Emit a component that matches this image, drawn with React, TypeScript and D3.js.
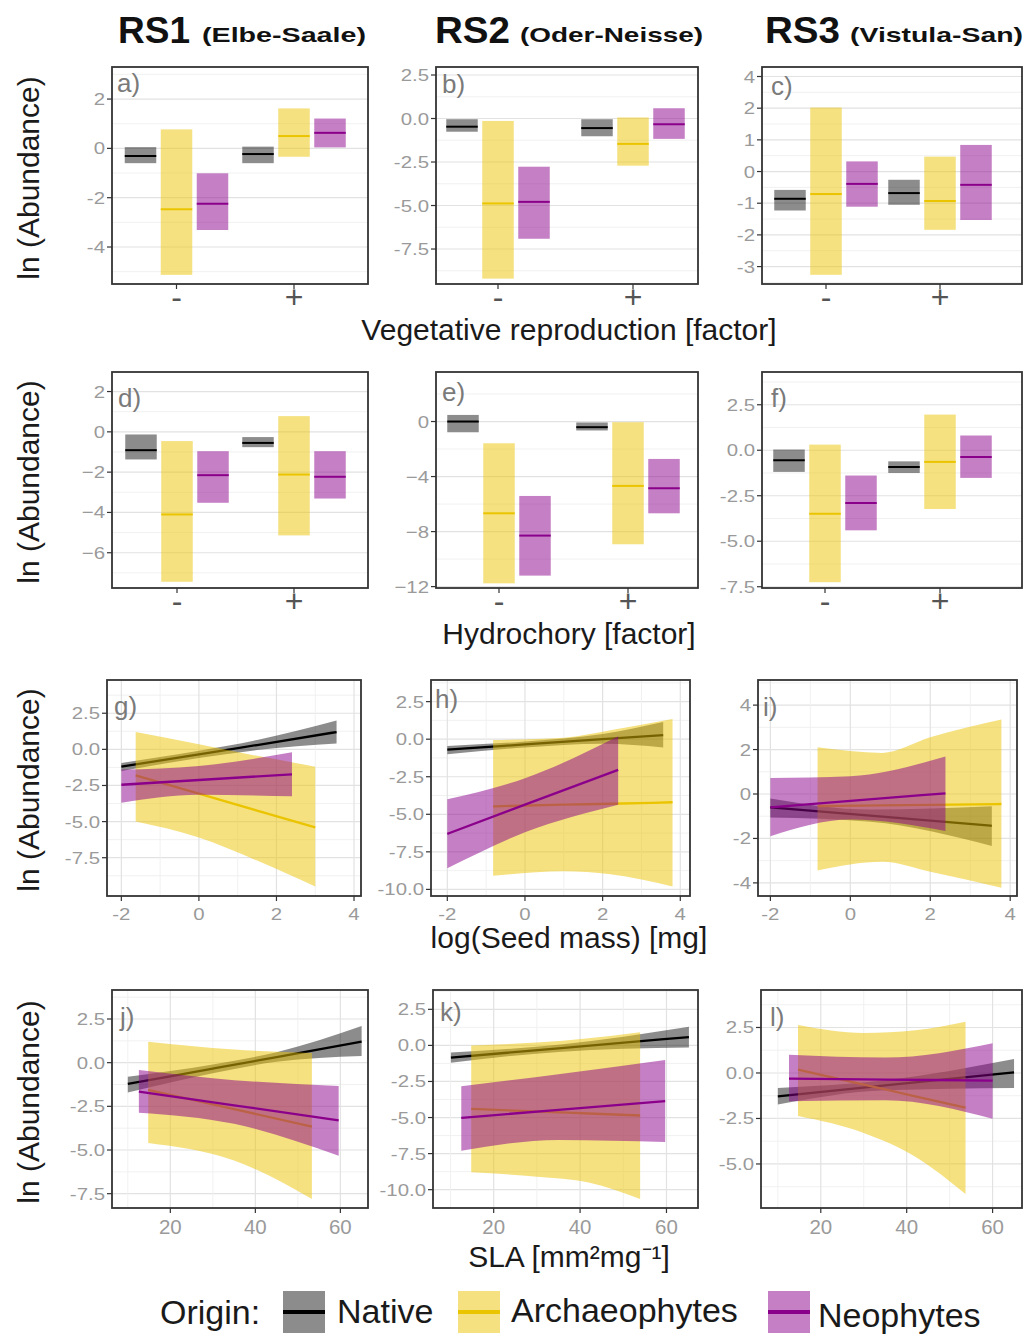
import React from "react";
import * as d3 from "d3";

const FONT = "'Liberation Sans', Arial, Helvetica, sans-serif";

const origins = ["Native", "Archaeophytes", "Neophytes"];
const originLine = ["#000000", "#EBC400", "#8B008B"];
const originAlpha = [0.45, 0.5, 0.5];
const levels = ["-", "+"];

// crossbars, [lower, median, upper] for level "-" then "+"
const aNative = [[-0.6, -0.31, 0.05], [-0.6, -0.23, 0.07]];
const aArch = [[-5.13, -2.47, 0.77], [-0.34, 0.5, 1.62]];
const aNeo = [[-3.31, -2.25, -1.01], [0.04, 0.63, 1.21]];

const bNative = [[-0.76, -0.47, -0.04], [-1.02, -0.55, -0.04]];
const bArch = [[-9.2, -4.88, -0.14], [-2.71, -1.46, 0.06]];
const bNeo = [[-6.91, -4.79, -2.77], [-1.17, -0.33, 0.59]];

const cNative = [[-1.23, -0.86, -0.58], [-1.05, -0.68, -0.26]];
const cArch = [[-3.26, -0.71, 2.02], [-1.84, -0.93, 0.47]];
const cNeo = [[-1.11, -0.39, 0.32], [-1.53, -0.42, 0.84]];

const dNative = [[-1.37, -0.91, -0.13], [-0.76, -0.55, -0.26]];
const dArch = [[-7.44, -4.1, -0.46], [-5.14, -2.12, 0.78]];
const dNeo = [[-3.52, -2.15, -0.96], [-3.31, -2.23, -0.96]];

const eNative = [[-0.78, 0.0, 0.48], [-0.65, -0.41, -0.07]];
const eArch = [[-11.76, -6.67, -1.58], [-8.92, -4.68, -0.05]];
const eNeo = [[-11.2, -8.29, -5.41], [-6.67, -4.85, -2.72]];

const fNative = [[-1.19, -0.55, 0.04], [-1.25, -0.92, -0.61]];
const fArch = [[-7.25, -3.49, 0.31], [-3.23, -0.64, 1.96]];
const fNeo = [[-4.4, -2.9, -1.39], [-1.52, -0.37, 0.81]];

// fitted lines with confidence bands: [x, fit, lower, upper]
const gNative = [[-2, -1.2, -1.5, -0.95], [0, -0.34, -0.6, -0.1], [1.5, 0.3, -0.05, 0.65], [3.55, 1.2, 0.4, 2.0]];
const gArch = [[-1.63, -1.8, -5.0, 1.2], [0, -3.07, -6.1, 0.35], [1.5, -4.24, -7.7, -0.45], [3.0, -5.4, -9.5, -1.2]];
const gNeo = [[-2, -2.45, -3.7, -1.4], [0, -2.12, -3.15, -1.15], [2.4, -1.73, -3.25, -0.2]];

const hNative = [[-2, -0.7, -1.0, -0.45], [0, -0.35, -0.55, -0.15], [2, 0.0, -0.3, 0.35], [3.56, 0.27, -0.55, 1.15]];
const hArch = [[-0.82, -4.47, -9.1, -0.05], [1, -4.36, -8.8, 0.1], [2.2, -4.3, -9.0, 0.6], [3.8, -4.2, -9.8, 1.35]];
const hNeo = [[-2, -6.3, -8.6, -4.0], [0, -4.36, -6.2, -2.6], [2.4, -2.04, -4.36, 0.2]];

const iNative = [[-2, -0.6, -1.06, -0.2], [0.5, -0.97, -1.25, -0.7], [3.54, -1.43, -2.34, -0.55]];
const iArch = [[-0.82, -0.55, -3.44, 2.1], [0.8, -0.51, -3.05, 1.85], [2, -0.49, -3.5, 2.55], [3.78, -0.45, -4.22, 3.35]];
const iNeo = [[-2, -0.6, -1.9, 0.72], [0, -0.31, -1.15, 0.8], [2.38, 0.03, -1.66, 1.69]];

const jNative = [[10, -1.22, -1.71, -0.8], [30, -0.34, -0.6, -0.1], [45, 0.32, 0.05, 0.6], [65, 1.2, 0.38, 2.1]];
const jArch = [[14.8, -1.56, -4.6, 1.2], [35, -2.66, -5.6, 0.75], [53.3, -3.66, -7.8, 0.55]];
const jNeo = [[12.6, -1.66, -2.86, -0.42], [35, -2.44, -3.5, -1.0], [59.6, -3.3, -5.33, -1.33]];

const kNative = [[10.1, -0.85, -1.2, -0.5], [35, -0.2, -0.45, 0.05], [65.2, 0.58, -0.15, 1.3]];
const kArch = [[14.8, -4.4, -8.8, 0.0], [30, -4.58, -9.1, 0.2], [42, -4.72, -9.5, 0.5], [53.9, -4.86, -10.65, 0.92]];
const kNeo = [[12.5, -5.02, -7.3, -2.83], [35, -4.47, -6.55, -2.0], [59.7, -3.86, -6.7, -1.02]];

const lNative = [[10, -1.28, -1.73, -0.82], [35, -0.68, -0.95, -0.4], [65, 0.03, -0.82, 0.77]];
const lArch = [[14.7, 0.18, -2.37, 2.64], [30, -0.64, -3.3, 2.2], [42, -1.28, -4.6, 2.35], [53.7, -1.91, -6.65, 2.82]];
const lNeo = [[12.6, -0.31, -1.55, 1.0], [35, -0.36, -1.5, 0.85], [60, -0.42, -2.51, 1.64]];

// tick values and labels
const yTicks2 = [2, 0, -2, -4];
const yLabels2 = ["2", "0", "-2", "-4"];
const yTicks25 = [2.5, 0, -2.5, -5, -7.5];
const yLabels25 = ["2.5", "0.0", "-2.5", "-5.0", "-7.5"];
const yTicks25b = [2.5, 0, -2.5, -5, -7.5, -10];
const yLabels25b = ["2.5", "0.0", "-2.5", "-5.0", "-7.5", "-10.0"];
const yTicksC = [3, 2, 1, 0, -1, -2, -3];
const yLabelsC = ["4", "2", "1", "0", "-1", "-2", "-3"];
const yTicksD = [2, 0, -2, -4, -6];
const yLabelsD = ["2", "0", "\u22122", "\u22124", "\u22126"];
const yTicksE = [0, -4, -8, -12];
const yLabelsE = ["0", "\u22124", "\u22128", "\u221212"];
const yTicksI = [4, 2, 0, -2, -4];
const yLabelsI = ["4", "2", "0", "-2", "-4"];
const yTicksL = [2.5, 0, -2.5, -5];
const yLabelsL = ["2.5", "0.0", "-2.5", "-5.0"];
const xTicksSeed = [-2, 0, 2, 4];
const xLabelsSeed = ["-2", "0", "2", "4"];
const xTicksSla = [20, 40, 60];
const xLabelsSla = ["20", "40", "60"];

const colTitles = [
  ["RS1", "(Elbe-Saale)"],
  ["RS2", "(Oder-Neisse)"],
  ["RS3", "(Vistula-San)"],
];
const axisTitles = ["Vegetative reproduction [factor]", "Hydrochory [factor]", "log(Seed mass) [mg]", "SLA [mm\u00B2mg\u207B\u00B9]"];

const panels = [
  { tag: "a)", box: [112, 67, 368, 284], yDomain: [-5.5, 3.3], yTicks: yTicks2, yLabels: yLabels2, cats: [176.5, 294], data: [aNative, aArch, aNeo], lab: [5, 25] },
  { tag: "b)", box: [436, 67, 698, 284], yDomain: [-9.51, 2.96], yTicks: yTicks25, yLabels: yLabels25, cats: [498, 633], data: [bNative, bArch, bNeo], lab: [6, 26] },
  { tag: "c)", box: [762, 67, 1022, 284], yDomain: [-3.55, 3.3], yTicks: yTicksC, yLabels: yLabelsC, cats: [826, 940], data: [cNative, cArch, cNeo], lab: [9, 28] },
  { tag: "d)", box: [112, 372, 368, 588], yDomain: [-7.75, 2.97], yTicks: yTicksD, yLabels: yLabelsD, cats: [177, 294], data: [dNative, dArch, dNeo], lab: [6, 35] },
  { tag: "e)", box: [436, 372, 698, 588], yDomain: [-12.1, 3.6], yTicks: yTicksE, yLabels: yLabelsE, cats: [499, 628], data: [eNative, eArch, eNeo], lab: [6, 29] },
  { tag: "f)", box: [762, 372, 1022, 588], yDomain: [-7.57, 4.3], yTicks: yTicks25, yLabels: yLabels25, cats: [825, 940], data: [fNative, fArch, fNeo], lab: [9, 35] },
  { tag: "g)", box: [107, 680, 361, 896], yDomain: [-10.15, 4.8], yTicks: yTicks25, yLabels: yLabels25, xDomain: [-2.37, 4.18], xTicks: xTicksSeed, xLabels: xLabelsSeed, data: [gNative, gArch, gNeo], lab: [7, 35] },
  { tag: "h)", box: [431, 680, 690, 896], yDomain: [-10.44, 3.94], yTicks: yTicks25b, yLabels: yLabels25b, xDomain: [-2.42, 4.25], xTicks: xTicksSeed, xLabels: xLabelsSeed, data: [hNative, hArch, hNeo], lab: [4, 28] },
  { tag: "i)", box: [758, 680, 1017, 896], yDomain: [-4.59, 5.13], yTicks: yTicksI, yLabels: yLabelsI, xDomain: [-2.31, 4.17], xTicks: xTicksSeed, xLabels: xLabelsSeed, data: [iNative, iArch, iNeo], lab: [5, 36] },
  { tag: "j)", box: [112, 990, 368, 1208], yDomain: [-8.32, 4.16], yTicks: yTicks25, yLabels: yLabels25, xDomain: [6.28, 66.5], xTicks: xTicksSla, xLabels: xLabelsSla, data: [jNative, jArch, jNeo], lab: [8, 36] },
  { tag: "k)", box: [433, 990, 698, 1208], yDomain: [-11.27, 3.84], yTicks: yTicks25b, yLabels: yLabels25b, xDomain: [5.95, 67.3], xTicks: xTicksSla, xLabels: xLabelsSla, data: [kNative, kArch, kNeo], lab: [7, 31] },
  { tag: "l)", box: [761, 990, 1022, 1208], yDomain: [-7.42, 4.56], yTicks: yTicksL, yLabels: yLabelsL, xDomain: [6.08, 66.85], xTicks: xTicksSla, xLabels: xLabelsSla, data: [lNative, lArch, lNeo], lab: [9, 36] },
];

function minors(ticks: number[], domain: number[]) {
  const step = Math.abs(ticks[1] - ticks[0]);
  const lo = Math.min(...domain);
  const hi = Math.max(...domain);
  const out: number[] = [];
  for (let v = Math.min(...ticks) - step / 2; v <= Math.max(...ticks) + step / 2 + 1e-9; v += step) {
    if (v > lo && v < hi) out.push(v);
  }
  return out;
}

// tick labels in the figure are drawn a little wide; stretch them horizontally around the anchor
function Wide({ x, y, sx, size, anchor, children }: any) {
  return (
    <g transform={`translate(${x},${y}) scale(${sx},1)`}>
      <text x={0} y={0} textAnchor={anchor} fontSize={size} fill="#9a9a9a">{children}</text>
    </g>
  );
}

function Panel({ p, idx }: { p: any; idx: number }) {
  const [l, t, r, b] = p.box;
  const y = d3.scaleLinear().domain(p.yDomain).range([b, t]);
  const isFactor = !p.xDomain;
  const clipId = `clip-${idx}`;

  const grid: any[] = [];
  const marks: any[] = [];
  const xAxis: any[] = [];

  minors(p.yTicks, p.yDomain).forEach((v, i) =>
    grid.push(<line key={`ym${i}`} x1={l} x2={r} y1={y(v)} y2={y(v)} stroke="#efefef" strokeWidth={0.9} />)
  );
  p.yTicks.forEach((v: number, i: number) =>
    grid.push(<line key={`yM${i}`} x1={l} x2={r} y1={y(v)} y2={y(v)} stroke="#e2e2e2" strokeWidth={1.2} />)
  );

  if (isFactor) {
    const xc = d3.scalePoint().domain(levels).range(p.cats);
    const xo = d3.scaleBand().domain(origins).range([-51.75, 51.75]).paddingInner(0.125);
    origins.forEach((o, k) => {
      p.data[k].forEach((d: number[], i: number) => {
        const x0 = (xc(levels[i]) as number) + (xo(o) as number);
        marks.push(
          <rect key={`r${k}${i}`} x={x0} width={xo.bandwidth()} y={y(d[2])} height={y(d[0]) - y(d[2])}
            fill={originLine[k]} fillOpacity={originAlpha[k]} />
        );
        marks.push(
          <line key={`m${k}${i}`} x1={x0} x2={x0 + xo.bandwidth()} y1={y(d[1])} y2={y(d[1])}
            stroke={originLine[k]} strokeWidth={2} />
        );
      });
    });
    levels.forEach((lv, i) => {
      const xp = xc(lv) as number;
      xAxis.push(<line key={`xt${i}`} x1={xp} x2={xp} y1={b} y2={b + 5} stroke="#333" strokeWidth={1.2} />);
      xAxis.push(
        <text key={`xl${i}`} x={xp} y={b + 24} textAnchor="middle" fontSize={32} fill="#555">{lv}</text>
      );
    });
  } else {
    const x = d3.scaleLinear().domain(p.xDomain).range([l, r]);
    minors(p.xTicks, p.xDomain).forEach((v, i) =>
      grid.push(<line key={`xm${i}`} x1={x(v)} x2={x(v)} y1={t} y2={b} stroke="#efefef" strokeWidth={0.9} />)
    );
    p.xTicks.forEach((v: number, i: number) =>
      grid.push(<line key={`xM${i}`} x1={x(v)} x2={x(v)} y1={t} y2={b} stroke="#e2e2e2" strokeWidth={1.2} />)
    );
    const area = d3.area<number[]>().x((d) => x(d[0])).y0((d) => y(d[2])).y1((d) => y(d[3])).curve(d3.curveMonotoneX);
    const line = d3.line<number[]>().x((d) => x(d[0])).y((d) => y(d[1])).curve(d3.curveMonotoneX);
    origins.forEach((o, k) => {
      marks.push(<path key={`a${k}`} d={area(p.data[k]) || ""} fill={originLine[k]} fillOpacity={originAlpha[k]} />);
      marks.push(<path key={`l${k}`} d={line(p.data[k]) || ""} fill="none" stroke={originLine[k]} strokeWidth={2.3} />);
    });
    const sla = p.xTicks[0] > 10;
    p.xTicks.forEach((v: number, i: number) => {
      xAxis.push(<line key={`xt${i}`} x1={x(v)} x2={x(v)} y1={b} y2={b + 5} stroke="#333" strokeWidth={1.2} />);
      xAxis.push(
        <Wide key={`xl${i}`} x={x(v)} y={b + (sla ? 26 : 24)} sx={sla ? 1.05 : 1.2} size={sla ? 19.5 : 17} anchor="middle">
          {p.xLabels[i]}
        </Wide>
      );
    });
  }

  return (
    <g>
      <defs>
        <clipPath id={clipId}>
          <rect x={l} y={t} width={r - l} height={b - t} />
        </clipPath>
      </defs>
      <rect x={l} y={t} width={r - l} height={b - t} fill="#fff" />
      <g clipPath={`url(#${clipId})`}>
        {grid}
        {marks}
      </g>
      <text x={l + p.lab[0]} y={t + p.lab[1]} fontSize={26} fill="#7a7a7a">{p.tag}</text>
      <rect x={l} y={t} width={r - l} height={b - t} fill="none" stroke="#333" strokeWidth={1.8} />
      {p.yTicks.map((v: number, i: number) => (
        <g key={`yt${i}`}>
          <line x1={l - 5} x2={l} y1={y(v)} y2={y(v)} stroke="#333" strokeWidth={1.2} />
          <Wide x={l - 7} y={y(v) + 6} sx={1.2} size={17} anchor="end">{p.yLabels[i]}</Wide>
        </g>
      ))}
      {xAxis}
    </g>
  );
}

const rowCenters = [178, 482, 790, 1102];
const axisTitleY = [340, 644, 948, 1267];
const titleX = [[118, 72, 202, 164], [435, 75, 520, 183], [765, 75, 850, 173]];
const legendKeys = [283, 458, 768];
const legendText = [[337, 1323], [511, 1322], [818, 1327]];

export default function App() {
  return (
    <svg width={1030} height={1336} style={{ position: "absolute", left: 0, top: 0, background: "#fff" }} fontFamily={FONT}>
      <rect width={1030} height={1336} fill="#fff" />
      {colTitles.map((c, i) => (
        <g key={`ct${i}`} fontWeight="bold" fill="#111">
          <text x={titleX[i][0]} y={43} fontSize={36} textLength={titleX[i][1]} lengthAdjust="spacingAndGlyphs">{c[0]}</text>
          <text x={titleX[i][2]} y={42} fontSize={21} textLength={titleX[i][3]} lengthAdjust="spacingAndGlyphs">{c[1]}</text>
        </g>
      ))}
      {rowCenters.map((cy, i) => (
        <text key={`yl${i}`} transform={`translate(39,${cy}) rotate(-90)`} textAnchor="middle" fontSize={30} fill="#1a1a1a">
          ln (Abundance)
        </text>
      ))}
      {axisTitles.map((s, i) => (
        <text key={`at${i}`} x={569} y={axisTitleY[i]} textAnchor="middle" fontSize={30} fill="#1a1a1a">{s}</text>
      ))}
      {panels.map((p, i) => (
        <Panel key={i} p={p} idx={i} />
      ))}
      <g>
        <text x={160} y={1324} fontSize={34} fill="#1a1a1a">Origin:</text>
        {origins.map((o, k) => (
          <g key={`lg${k}`}>
            <rect x={legendKeys[k]} y={1291} width={42} height={42} fill={originLine[k]} fillOpacity={originAlpha[k]} />
            <line x1={legendKeys[k]} x2={legendKeys[k] + 42} y1={1312} y2={1312} stroke={originLine[k]} strokeWidth={4} />
            <text x={legendText[k][0]} y={legendText[k][1]} fontSize={34} fill="#1a1a1a">{o}</text>
          </g>
        ))}
      </g>
    </svg>
  );
}
